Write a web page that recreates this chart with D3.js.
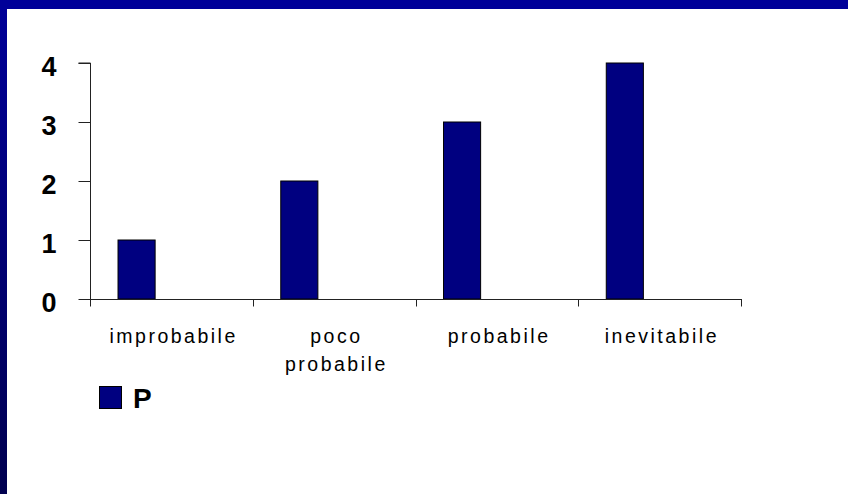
<!DOCTYPE html>
<html>
<head>
<meta charset="utf-8">
<script src="https://cdn.jsdelivr.net/npm/d3@7"></script>
<style>
  html, body { margin: 0; padding: 0; background: #fff; }
  svg { display: block; }
</style>
</head>
<body>
<svg id="chart" width="848" height="494"></svg>
<script>
// Category names, one value per category, and the y tick values
const categories = ["improbabile", "poco probabile", "probabile", "inevitabile"];
const valuesP = [1, 2, 3, 4];
const yTicks = [0, 1, 2, 3, 4];
const seriesName = "P";

const W = 848, H = 494;
const svg = d3.select("#chart");
const font = "'Liberation Sans', Arial, sans-serif";

// Slide frame: gradient band on the left, solid band on top
const defs = svg.append("defs");
const grad = defs.append("linearGradient")
  .attr("id", "sideBand").attr("x1", 0).attr("y1", 0).attr("x2", 0).attr("y2", 1);
grad.append("stop").attr("offset", "0%").attr("stop-color", "#000099");
grad.append("stop").attr("offset", "100%").attr("stop-color", "#00004f");

svg.append("rect").attr("width", W).attr("height", H).attr("fill", "#fff");
svg.append("rect").attr("x", 0).attr("y", 0).attr("width", 7).attr("height", H).attr("fill", "url(#sideBand)");
svg.append("rect").attr("x", 0).attr("y", 0).attr("width", W).attr("height", 9).attr("fill", "#000099");

// Plot area
const plot = { left: 91, right: 742, top: 63, bottom: 299 };

const x = d3.scaleBand().domain(categories).range([plot.left, plot.right]).padding(0);
const y = d3.scaleLinear().domain([0, 4]).range([plot.bottom, plot.top]);

// Bars sit in the left part of each category slot
const barOffset = 0.166, barWidth = 0.228;

svg.append("g").selectAll("rect")
  .data(categories.map((c, i) => ({ c, v: valuesP[i] })))
  .join("rect")
  .attr("x", d => x(d.c) + x.bandwidth() * barOffset)
  .attr("width", x.bandwidth() * barWidth)
  .attr("y", d => y(d.v))
  .attr("height", d => y(0) - y(d.v))
  .attr("fill", "#000080")
  .attr("stroke", "#000")
  .attr("stroke-width", 1);

// Y axis
const yAxis = d3.axisLeft(y).tickValues(yTicks).tickFormat(d3.format("d")).tickSize(12).tickPadding(22);
const gy = svg.append("g").attr("transform", `translate(${plot.left - 0.5},0)`).call(yAxis);
gy.select(".domain").attr("stroke", "#222").attr("d", `M-12,${plot.top}H0V${plot.bottom}`);
gy.selectAll(".tick line").attr("stroke", "#222");
gy.selectAll(".tick text")
  .attr("font-family", font).attr("font-size", 27).attr("font-weight", "bold")
  .attr("fill", "#000").attr("dy", "0.45em");

// X axis: baseline with ticks between the category slots
const gx = svg.append("g").attr("transform", `translate(0,${plot.bottom + 0.5})`);
gx.append("line").attr("x1", plot.left - 12).attr("x2", plot.right)
  .attr("y1", 0).attr("y2", 0).attr("stroke", "#222");
const boundaries = categories.map(c => x(c)).concat([plot.right]);
gx.selectAll("line.tick").data(boundaries).join("line")
  .attr("class", "tick")
  .attr("x1", d => Math.round(d) - 0.5).attr("x2", d => Math.round(d) - 0.5)
  .attr("y1", 0).attr("y2", 7).attr("stroke", "#222");

// Category labels, wrapped onto extra lines when too wide for the slot
const labelSize = 19.5, labelSpacing = 2.5, lineGap = 28.5, maxLabelWidth = 150;
const labels = gx.selectAll("text.cat").data(categories).join("text")
  .attr("class", "cat")
  .attr("font-family", font).attr("font-size", labelSize)
  .attr("letter-spacing", labelSpacing)
  .attr("fill", "#000")
  .attr("text-anchor", "middle")
  .attr("x", d => x(d) + x.bandwidth() / 2 + labelSpacing / 2)
  .attr("y", 43);

labels.each(function (d) {
  const t = d3.select(this);
  const words = d.split(" ");
  const lines = [];
  let cur = [];
  const probe = t.append("tspan");
  words.forEach(w => {
    const test = cur.concat([w]).join(" ");
    probe.text(test);
    if (probe.node().getComputedTextLength() > maxLabelWidth && cur.length) {
      lines.push(cur.join(" "));
      cur = [w];
    } else {
      cur.push(w);
    }
  });
  lines.push(cur.join(" "));
  probe.remove();
  const cx = t.attr("x");
  lines.forEach((ln, i) => {
    t.append("tspan").attr("x", cx).attr("dy", i === 0 ? 0 : lineGap).text(ln);
  });
});

// Legend
const legend = svg.append("g").attr("transform", "translate(99,386)");
legend.append("rect").attr("x", 0.5).attr("y", 0.5).attr("width", 22).attr("height", 22)
  .attr("fill", "#000080").attr("stroke", "#000");
legend.append("text").attr("x", 34).attr("y", 22)
  .attr("font-family", font).attr("font-size", 28).attr("font-weight", "bold")
  .attr("fill", "#000").text(seriesName);
</script>
</body>
</html>
